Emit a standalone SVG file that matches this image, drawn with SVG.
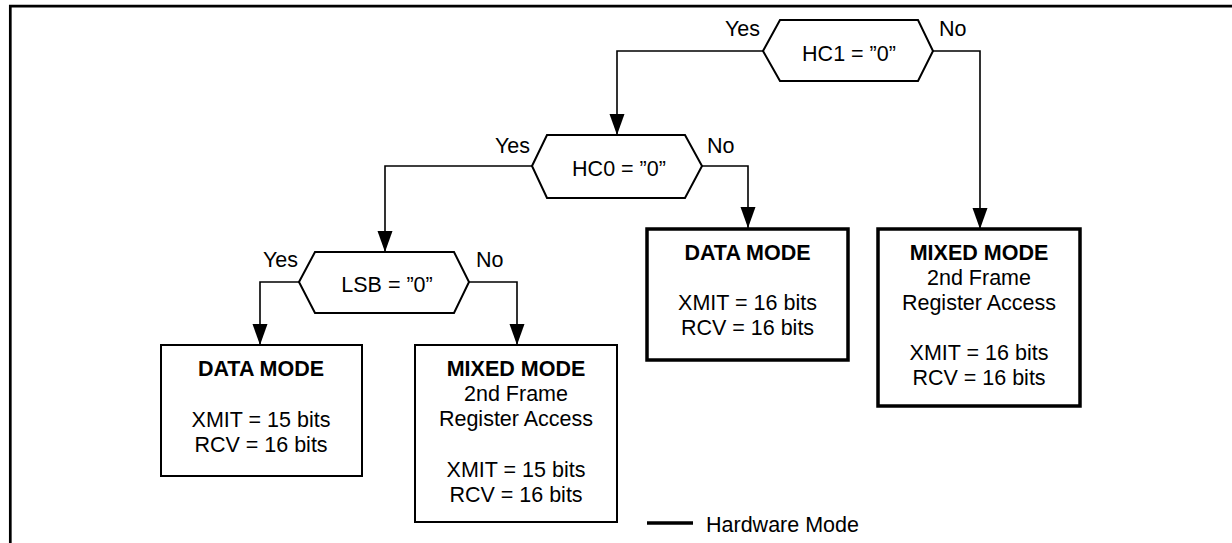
<svg xmlns="http://www.w3.org/2000/svg" width="1232" height="543" viewBox="0 0 1232 543">
<style>
text{font-family:"Liberation Sans",Arial,sans-serif;font-size:21.5px;fill:#000}
.c{text-anchor:middle}
.e{text-anchor:end}
.b{font-weight:bold}
.hex{fill:#fff;stroke:#000;stroke-width:2}
.thin{fill:#fff;stroke:#000;stroke-width:2}
.thick{fill:#fff;stroke:#000;stroke-width:3.5}
.conn{fill:none;stroke:#000;stroke-width:1.6}
</style>
<defs>
<marker id="ah" markerUnits="userSpaceOnUse" markerWidth="22" markerHeight="16" refX="21" refY="7.5" orient="auto" viewBox="0 0 22 16">
<path d="M0,0 L21,7.5 L0,15 z" fill="#000"/>
</marker>
</defs>
<rect width="1232" height="543" fill="#fff"/>
<path d="M10.3,543 V6.2 H1232" fill="none" stroke="#000" stroke-width="2.7"/>
<g id="connectors">
<path class="conn" d="M763,51 H617 V135" marker-end="url(#ah)"/>
<path class="conn" d="M933,51 H980 V229" marker-end="url(#ah)"/>
<path class="conn" d="M532,166 H385 V252" marker-end="url(#ah)"/>
<path class="conn" d="M702,166 H748 V228" marker-end="url(#ah)"/>
<path class="conn" d="M299,282 H260 V345" marker-end="url(#ah)"/>
<path class="conn" d="M469,282 H517 V345" marker-end="url(#ah)"/>
</g>
<g id="hc1">
<polygon class="hex" points="763,51 780,20 918,20 933,51 918,81 780,81"/>
<text class="c" x="849" y="61">HC1 = ”0”</text>
<text class="e" x="760" y="36">Yes</text>
<text x="939" y="36">No</text>
</g>
<g id="hc0">
<polygon class="hex" points="532,166 547,135 685,135 702,166 685,198 547,198"/>
<text class="c" x="619" y="176">HC0 = ”0”</text>
<text class="e" x="530" y="153">Yes</text>
<text x="707" y="153">No</text>
</g>
<g id="lsb">
<polygon class="hex" points="299,282 315,252 454,252 469,282 454,313 315,313"/>
<text class="c" x="387" y="292">LSB = ”0”</text>
<text class="e" x="298" y="267">Yes</text>
<text x="476" y="267">No</text>
</g>
<g id="data1">
<rect class="thin" x="161" y="345" width="201" height="131"/>
<text class="c b" x="261" y="376">DATA MODE</text>
<text class="c" x="261" y="427">XMIT = 15 bits</text>
<text class="c" x="261" y="452">RCV = 16 bits</text>
</g>
<g id="mixed1">
<rect class="thin" x="415" y="345" width="202" height="177"/>
<text class="c b" x="516" y="376">MIXED MODE</text>
<text class="c" x="516" y="401">2nd Frame</text>
<text class="c" x="516" y="426">Register Access</text>
<text class="c" x="516" y="477">XMIT = 15 bits</text>
<text class="c" x="516" y="502">RCV = 16 bits</text>
</g>
<g id="data2">
<rect class="thick" x="647" y="229" width="201" height="131"/>
<text class="c b" x="747.5" y="260">DATA MODE</text>
<text class="c" x="747.5" y="310">XMIT = 16 bits</text>
<text class="c" x="747.5" y="335">RCV = 16 bits</text>
</g>
<g id="mixed2">
<rect class="thick" x="878" y="229" width="202" height="177"/>
<text class="c b" x="979" y="260">MIXED MODE</text>
<text class="c" x="979" y="285">2nd Frame</text>
<text class="c" x="979" y="310">Register Access</text>
<text class="c" x="979" y="360">XMIT = 16 bits</text>
<text class="c" x="979" y="385">RCV = 16 bits</text>
</g>
<g id="legend">
<line x1="647" y1="523" x2="693" y2="523" stroke="#000" stroke-width="3.5"/>
<text x="706" y="532">Hardware Mode</text>
</g>
</svg>
